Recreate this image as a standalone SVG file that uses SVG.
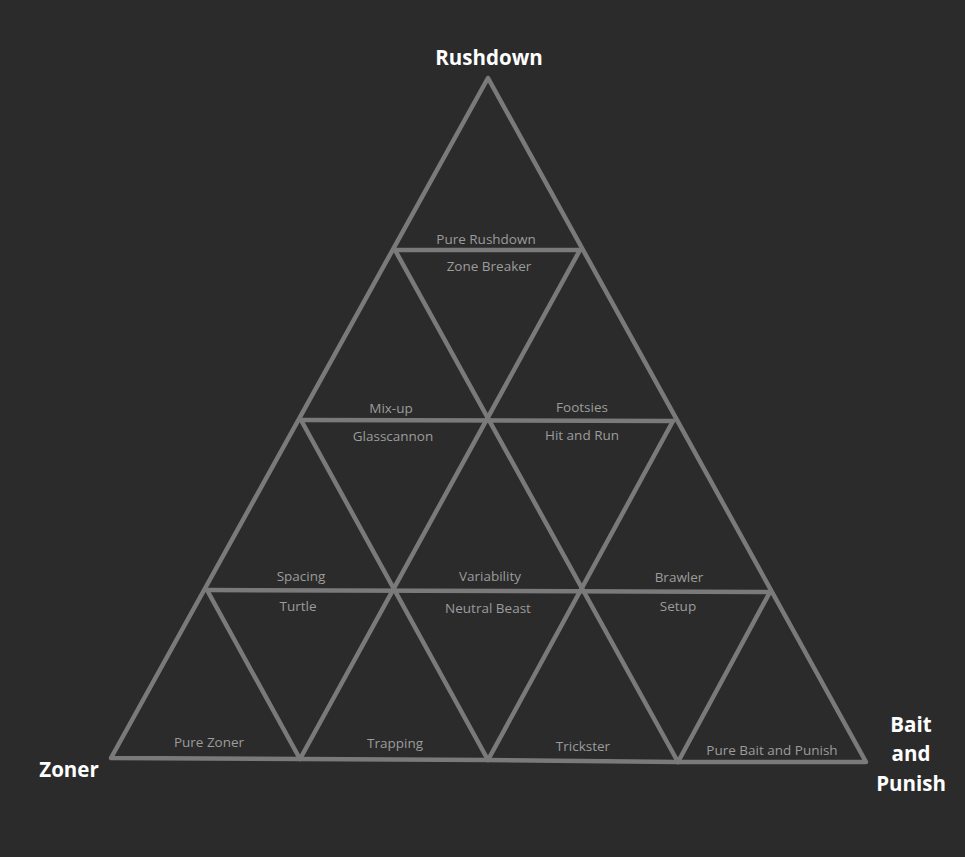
<svg xmlns="http://www.w3.org/2000/svg" width="965" height="857" viewBox="0 0 965 857">
<style>
.bg{fill:#2b2b2b}
.ln{stroke:#7a7a7a;stroke-width:4.5;fill:none;stroke-linecap:round;stroke-linejoin:round}
.t{font-family:"Open Sans","Liberation Sans",sans-serif;font-size:13.5px;fill:#9c9c9c;text-anchor:middle}
.h{font-family:"Open Sans","Liberation Sans",sans-serif;font-size:20.5px;font-weight:bold;fill:#ffffff;text-anchor:middle}
</style>
<rect class="bg" x="0" y="0" width="965" height="857"/>
<g id="connectors">
<polygon class="ln" points="488,78 111,758 300,759 488,760 678,762 866,762"/>
<line class="ln" x1="395" y1="250" x2="580" y2="250"/>
<line class="ln" x1="301" y1="420" x2="673" y2="421"/>
<line class="ln" x1="207" y1="590" x2="770" y2="592"/>
<line class="ln" x1="395" y1="250" x2="678" y2="762"/>
<line class="ln" x1="301" y1="420" x2="488" y2="760"/>
<line class="ln" x1="207" y1="590" x2="300" y2="759"/>
<line class="ln" x1="580" y1="250" x2="300" y2="759"/>
<line class="ln" x1="673" y1="421" x2="488" y2="760"/>
<line class="ln" x1="770" y1="592" x2="678" y2="762"/>
</g>
<g id="rushdown"><text class="h" x="489" y="65">Rushdown</text></g>
<g id="zoner"><text class="h" x="69" y="777">Zoner</text></g>
<g id="bait"><text class="h" x="911" y="732">Bait</text><text class="h" x="911" y="761">and</text><text class="h" x="911" y="791">Punish</text></g>
<g id="pure-rushdown"><text class="t" x="486" y="244">Pure Rushdown</text></g>
<g id="zone-breaker"><text class="t" x="489" y="271">Zone Breaker</text></g>
<g id="mix-up"><text class="t" x="391" y="413">Mix-up</text></g>
<g id="glasscannon"><text class="t" x="393" y="441">Glasscannon</text></g>
<g id="footsies"><text class="t" x="582" y="412">Footsies</text></g>
<g id="hit-and-run"><text class="t" x="582" y="440">Hit and Run</text></g>
<g id="spacing"><text class="t" x="301" y="581">Spacing</text></g>
<g id="turtle"><text class="t" x="298" y="611">Turtle</text></g>
<g id="variability"><text class="t" x="490" y="581">Variability</text></g>
<g id="neutral-beast"><text class="t" x="488" y="613">Neutral Beast</text></g>
<g id="brawler"><text class="t" x="679" y="582">Brawler</text></g>
<g id="setup"><text class="t" x="678" y="611">Setup</text></g>
<g id="pure-zoner"><text class="t" x="209" y="747">Pure Zoner</text></g>
<g id="trapping"><text class="t" x="395" y="748">Trapping</text></g>
<g id="trickster"><text class="t" x="583" y="751">Trickster</text></g>
<g id="pure-bait"><text class="t" x="772" y="755">Pure Bait and Punish</text></g>
</svg>
